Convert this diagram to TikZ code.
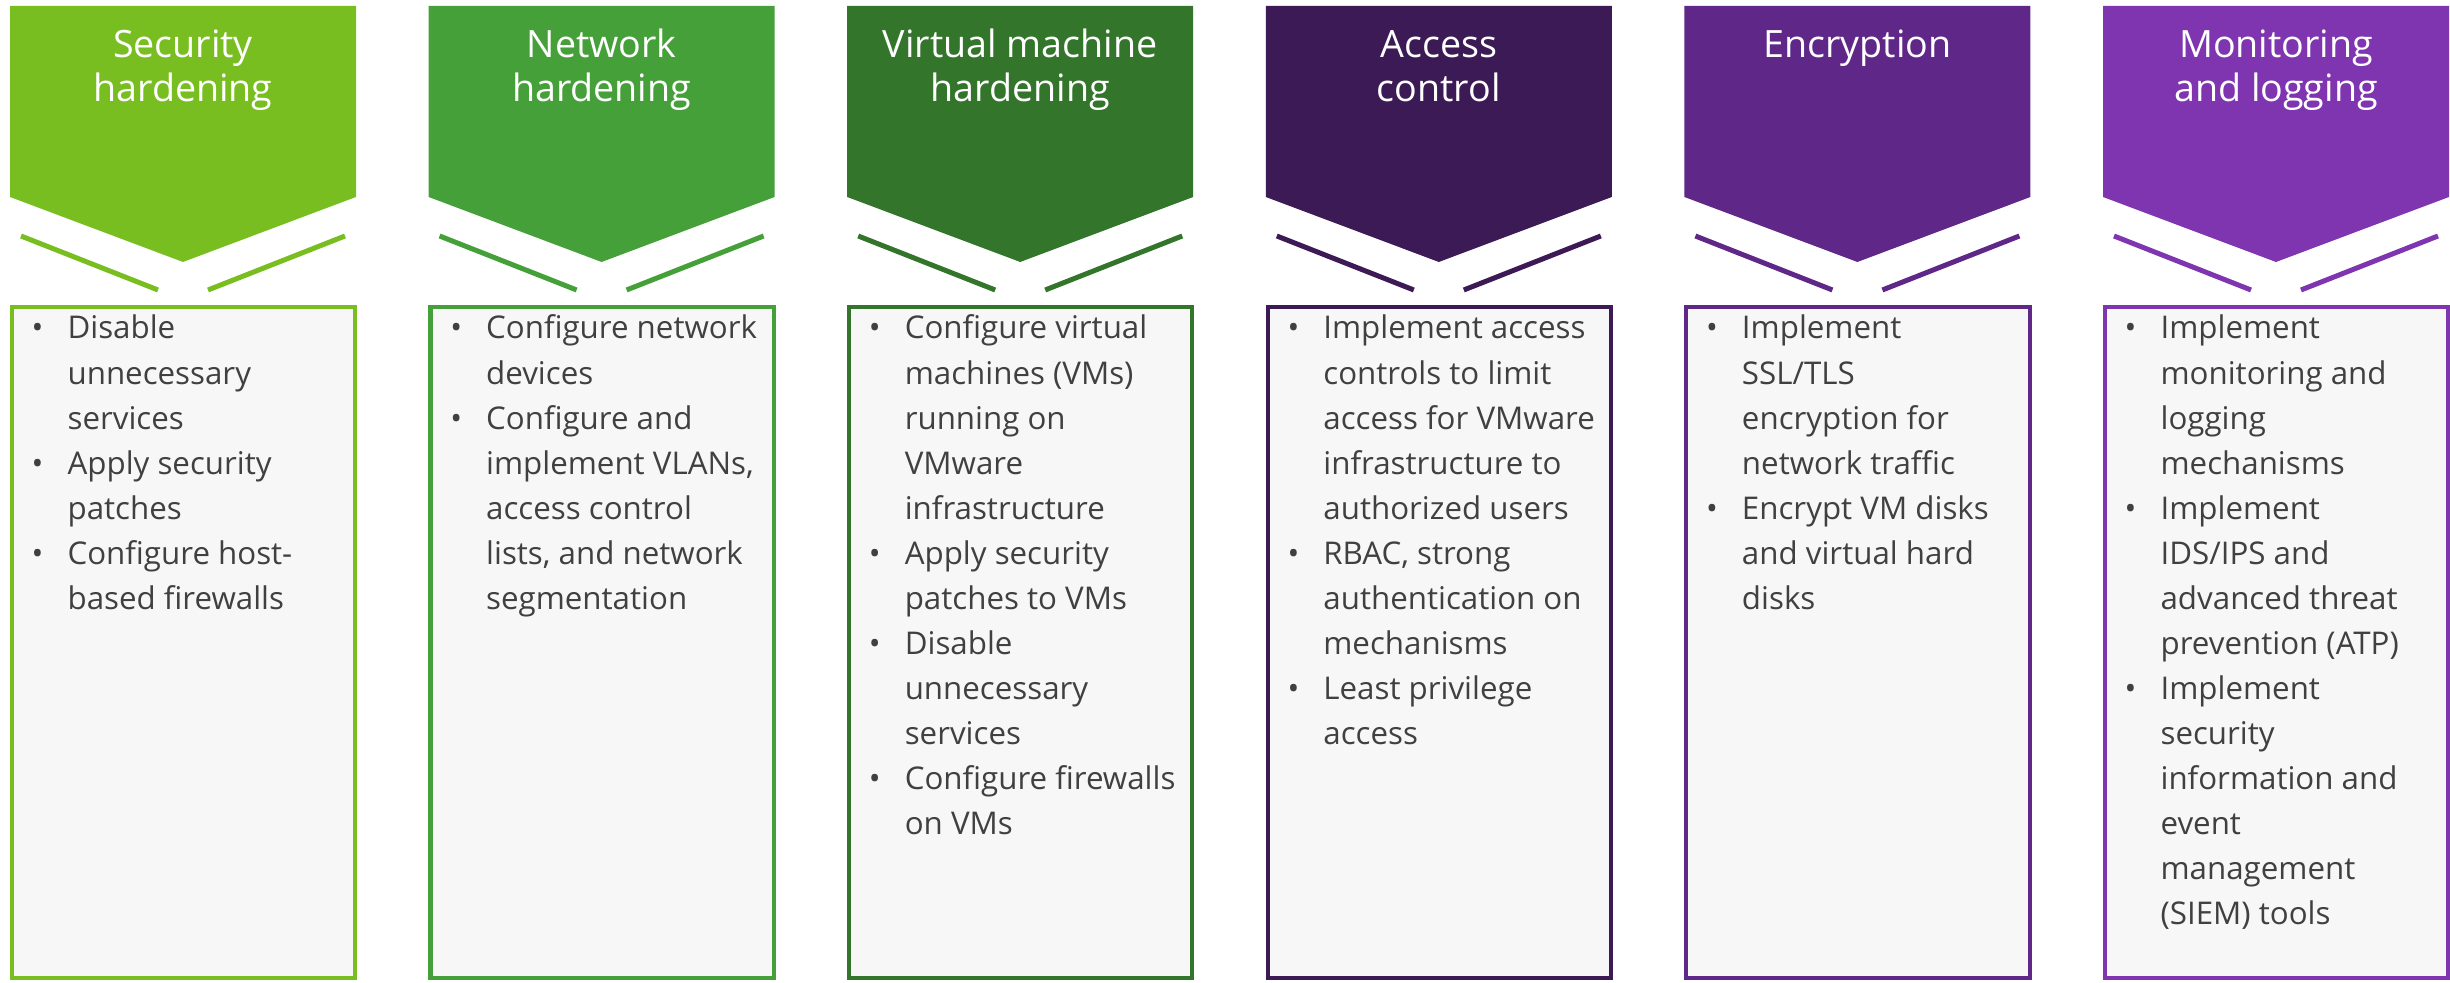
\documentclass[tikz,border=0pt]{standalone}
\usepackage{fontspec}
\setmainfont{Open Sans}
\definecolor{c1}{HTML}{78BE20}
\definecolor{c2}{HTML}{46A03A}
\definecolor{c3}{HTML}{33752B}
\definecolor{c4}{HTML}{3C1A55}
\definecolor{c5}{HTML}{5F2787}
\definecolor{c6}{HTML}{7F35B0}
\definecolor{bodytext}{HTML}{404040}
\definecolor{boxfill}{HTML}{F7F7F7}
\newcommand\bodyfont{\fontsize{8.9pt}{12.8pt}\selectfont}
\newcommand\titlefont{\fontsize{10.7pt}{12.3pt}\selectfont}
\newcommand\bu{\textbullet}
\tikzset{
  headtitle/.style={anchor=base, inner sep=0pt, text=white, font=\titlefont},
  contentbox/.style={draw, fill=boxfill, line width=1.14pt, minimum width=3.43cm, minimum height=6.71cm, inner sep=0pt, outer sep=0pt},
  bodytxt/.style={anchor=base west, inner sep=0pt, text=bodytext, font=\bodyfont},
  tick/.style={line width=1.42pt}
}
\newcommand\hcolumn[4]{%
  \pgfmathsetmacro\X{10+418.6*#1}
  \fill[#2] (\X,6) -- (\X+346,6) -- (\X+346,197) -- (\X+173,262) -- (\X,197) -- cycle;
  \node[headtitle] (head#1) at (\X+173,58) {\begin{tabular}[t]{@{}c@{}}#3\end{tabular}};
  \coordinate (la#1) at (\X+11,236);
  \coordinate (lb#1) at (\X+148,290);
  \coordinate (ra#1) at (\X+198,290);
  \coordinate (rb#1) at (\X+335,236);
  \draw[tick,#2] (la#1) -- (lb#1);
  \draw[tick,#2] (ra#1) -- (rb#1);
  \node[contentbox, draw=#2] (box#1) at (\X+173.5,642.5) {};
  \node[bodytxt] (txt#1) at (\X+21,339) {\begin{tabular}[t]{@{}p{10.2pt}@{}l@{}}#4\end{tabular}};
}
\begin{document}
\begin{tikzpicture}[x=0.01cm,y=-0.01cm]
\useasboundingbox (0,0) rectangle (2450,983);
\hcolumn{0}{c1}{Security\\hardening}{%
\bu & Disable\\ & unnecessary\\ & services\\
\bu & Apply security\\ & patches\\
\bu & Configure host-\\ & based firewalls}
\hcolumn{1}{c2}{Network\\hardening}{%
\bu & Configure network\\ & devices\\
\bu & Configure and\\ & implement VLANs,\\ & access control\\ & lists, and network\\ & segmentation}
\hcolumn{2}{c3}{Virtual machine\\hardening}{%
\bu & Configure virtual\\ & machines (VMs)\\ & running on\\ & VMware\\ & infrastructure\\
\bu & Apply security\\ & patches to VMs\\
\bu & Disable\\ & unnecessary\\ & services\\
\bu & Configure firewalls\\ & on VMs}
\hcolumn{3}{c4}{Access\\control}{%
\bu & Implement access\\ & controls to limit\\ & access for VMware\\ & infrastructure to\\ & authorized users\\
\bu & RBAC, strong\\ & authentication on\\ & mechanisms\\
\bu & Least privilege\\ & access}
\hcolumn{4}{c5}{Encryption}{%
\bu & Implement\\ & SSL/TLS\\ & encryption for\\ & network traffic\\
\bu & Encrypt VM disks\\ & and virtual hard\\ & disks}
\hcolumn{5}{c6}{Monitoring\\and logging}{%
\bu & Implement\\ & monitoring and\\ & logging\\ & mechanisms\\
\bu & Implement\\ & IDS/IPS and\\ & advanced threat\\ & prevention (ATP)\\
\bu & Implement\\ & security\\ & information and\\ & event\\ & management\\ & (SIEM) tools}
\end{tikzpicture}
\end{document}
